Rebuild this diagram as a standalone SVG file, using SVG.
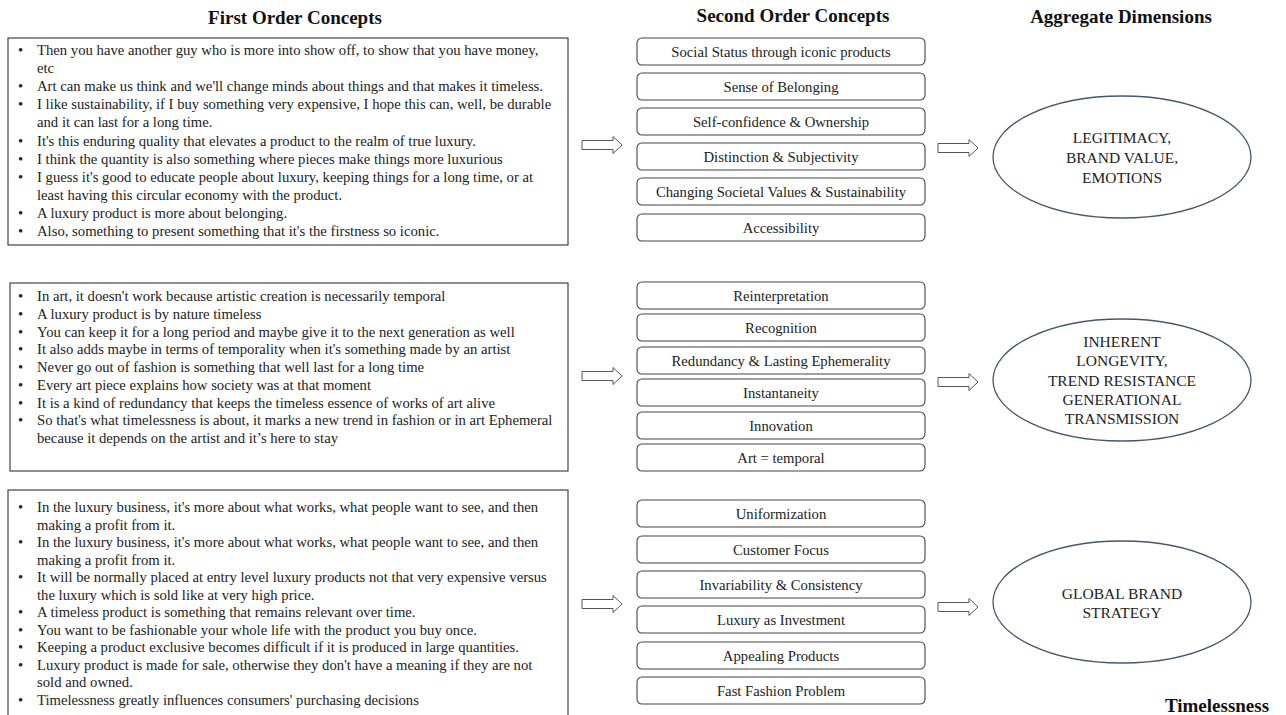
<svg xmlns="http://www.w3.org/2000/svg" xmlns:xlink="http://www.w3.org/1999/xlink" width="1286" height="715" viewBox="0 0 1286 715">
<style>
.h{font-family:"Liberation Serif","Times New Roman",serif;font-weight:bold;font-size:19px;fill:#111;text-anchor:middle}
.t{font-family:"Liberation Serif","Times New Roman",serif;font-size:14.7px;fill:#222}
.c{font-family:"Liberation Serif","Times New Roman",serif;font-size:14.7px;fill:#222;text-anchor:middle}
.e{font-family:"Liberation Serif","Times New Roman",serif;font-size:15.5px;fill:#222;text-anchor:middle}
.box{fill:#fff;stroke:#444;stroke-width:1.2}
.sb{fill:#fff;stroke:#444;stroke-width:1.1}
.el{fill:#fff;stroke:#44586c;stroke-width:1.3}
.ar{fill:#fff;stroke:#555;stroke-width:1}
</style>
<defs>
<path id="arr" d="M-40,-4.5 L-9,-4.5 L-9,-8.5 L0,0 L-9,8.5 L-9,4.5 L-40,4.5 Z"/>
</defs>
<rect width="1286" height="715" fill="#fff"/>
<text class="h" x="295" y="24">First Order Concepts</text>
<text class="h" x="793" y="22">Second Order Concepts</text>
<text class="h" x="1121" y="23">Aggregate Dimensions</text>

<g id="first1">
<rect class="box" x="8" y="38" width="560" height="207"/>
<text class="t"><tspan x="18" y="55">•</tspan><tspan x="37" y="55">Then you have another guy who is more into show off, to show that you have money,</tspan>
<tspan x="37" y="73.1">etc</tspan>
<tspan x="18" y="91.2">•</tspan><tspan x="37" y="91.2">Art can make us think and we'll change minds about things and that makes it timeless.</tspan>
<tspan x="18" y="109.3">•</tspan><tspan x="37" y="109.3">I like sustainability, if I buy something very expensive, I hope this can, well, be durable</tspan>
<tspan x="37" y="127.4">and it can last for a long time.</tspan>
<tspan x="18" y="145.5">•</tspan><tspan x="37" y="145.5">It's this enduring quality that elevates a product to the realm of true luxury.</tspan>
<tspan x="18" y="163.6">•</tspan><tspan x="37" y="163.6">I think the quantity is also something where pieces make things more luxurious</tspan>
<tspan x="18" y="181.7">•</tspan><tspan x="37" y="181.7">I guess it's good to educate people about luxury, keeping things for a long time, or at</tspan>
<tspan x="37" y="199.8">least having this circular economy with the product.</tspan>
<tspan x="18" y="217.9">•</tspan><tspan x="37" y="217.9">A luxury product is more about belonging.</tspan>
<tspan x="18" y="236">•</tspan><tspan x="37" y="236">Also, something to present something that it's the firstness so iconic.</tspan></text>
</g>

<g id="first2">
<rect class="box" x="10" y="283" width="558" height="188"/>
<text class="t"><tspan x="18" y="301">•</tspan><tspan x="37" y="301">In art, it doesn't work because artistic creation is necessarily temporal</tspan>
<tspan x="18" y="318.75">•</tspan><tspan x="37" y="318.75">A luxury product is by nature timeless</tspan>
<tspan x="18" y="336.5">•</tspan><tspan x="37" y="336.5">You can keep it for a long period and maybe give it to the next generation as well</tspan>
<tspan x="18" y="354.25">•</tspan><tspan x="37" y="354.25">It also adds maybe in terms of temporality when it's something made by an artist</tspan>
<tspan x="18" y="372">•</tspan><tspan x="37" y="372">Never go out of fashion is something that well last for a long time</tspan>
<tspan x="18" y="389.75">•</tspan><tspan x="37" y="389.75">Every art piece explains how society was at that moment</tspan>
<tspan x="18" y="407.5">•</tspan><tspan x="37" y="407.5">It is a kind of redundancy that keeps the timeless essence of works of art alive</tspan>
<tspan x="18" y="425.25">•</tspan><tspan x="37" y="425.25">So that's what timelessness is about, it marks a new trend in fashion or in art Ephemeral</tspan>
<tspan x="37" y="443">because it depends on the artist and it’s here to stay</tspan></text>
</g>

<g id="first3">
<rect class="box" x="8" y="490" width="560" height="230"/>
<text class="t"><tspan x="18" y="512">•</tspan><tspan x="37" y="512">In the luxury business, it's more about what works, what people want to see, and then</tspan>
<tspan x="37" y="529.5">making a profit from it.</tspan>
<tspan x="18" y="547">•</tspan><tspan x="37" y="547">In the luxury business, it's more about what works, what people want to see, and then</tspan>
<tspan x="37" y="564.5">making a profit from it.</tspan>
<tspan x="18" y="582">•</tspan><tspan x="37" y="582">It will be normally placed at entry level luxury products not that very expensive versus</tspan>
<tspan x="37" y="599.5">the luxury which is sold like at very high price.</tspan>
<tspan x="18" y="617">•</tspan><tspan x="37" y="617">A timeless product is something that remains relevant over time.</tspan>
<tspan x="18" y="634.5">•</tspan><tspan x="37" y="634.5">You want to be fashionable your whole life with the product you buy once.</tspan>
<tspan x="18" y="652">•</tspan><tspan x="37" y="652">Keeping a product exclusive becomes difficult if it is produced in large quantities.</tspan>
<tspan x="18" y="669.5">•</tspan><tspan x="37" y="669.5">Luxury product is made for sale, otherwise they don't have a meaning if they are not</tspan>
<tspan x="37" y="687">sold and owned.</tspan>
<tspan x="18" y="704.5">•</tspan><tspan x="37" y="704.5">Timelessness greatly influences consumers' purchasing decisions</tspan></text>
</g>

<g id="second1">
<rect class="sb" x="637" y="38" width="288" height="27" rx="5"/><text class="c" x="781" y="56.5">Social Status through iconic products</text>
<rect class="sb" x="637" y="73" width="288" height="27" rx="5"/><text class="c" x="781" y="91.5">Sense of Belonging</text>
<rect class="sb" x="637" y="108" width="288" height="27" rx="5"/><text class="c" x="781" y="126.5">Self-confidence &amp; Ownership</text>
<rect class="sb" x="637" y="143" width="288" height="27" rx="5"/><text class="c" x="781" y="161.5">Distinction &amp; Subjectivity</text>
<rect class="sb" x="637" y="178" width="288" height="27" rx="5"/><text class="c" x="781" y="196.5">Changing Societal Values &amp; Sustainability</text>
<rect class="sb" x="637" y="214" width="288" height="27" rx="5"/><text class="c" x="781" y="232.5">Accessibility</text>
</g>

<g id="second2">
<rect class="sb" x="637" y="282" width="288" height="27" rx="5"/><text class="c" x="781" y="300.5">Reinterpretation</text>
<rect class="sb" x="637" y="314" width="288" height="27" rx="5"/><text class="c" x="781" y="332.5">Recognition</text>
<rect class="sb" x="637" y="347" width="288" height="27" rx="5"/><text class="c" x="781" y="365.5">Redundancy &amp; Lasting Ephemerality</text>
<rect class="sb" x="637" y="379" width="288" height="27" rx="5"/><text class="c" x="781" y="397.5">Instantaneity</text>
<rect class="sb" x="637" y="412" width="288" height="27" rx="5"/><text class="c" x="781" y="430.5">Innovation</text>
<rect class="sb" x="637" y="444" width="288" height="27" rx="5"/><text class="c" x="781" y="462.5">Art = temporal</text>
</g>

<g id="second3">
<rect class="sb" x="637" y="500" width="288" height="27" rx="5"/><text class="c" x="781" y="518.5">Uniformization</text>
<rect class="sb" x="637" y="536" width="288" height="27" rx="5"/><text class="c" x="781" y="554.5">Customer Focus</text>
<rect class="sb" x="637" y="571" width="288" height="27" rx="5"/><text class="c" x="781" y="589.5">Invariability  &amp; Consistency</text>
<rect class="sb" x="637" y="606" width="288" height="27" rx="5"/><text class="c" x="781" y="624.5">Luxury as Investment</text>
<rect class="sb" x="637" y="642" width="288" height="27" rx="5"/><text class="c" x="781" y="660.5">Appealing Products</text>
<rect class="sb" x="637" y="677" width="288" height="27" rx="5"/><text class="c" x="781" y="695.5">Fast Fashion Problem</text>
</g>

<g id="agg1">
<ellipse class="el" cx="1122" cy="157" rx="129" ry="61"/>
<text class="e"><tspan x="1122" y="143">LEGITIMACY,</tspan><tspan x="1122" y="163">BRAND VALUE,</tspan><tspan x="1122" y="183">EMOTIONS</tspan></text>
</g>
<g id="agg2">
<ellipse class="el" cx="1122" cy="380" rx="129" ry="61"/>
<text class="e"><tspan x="1122" y="347">INHERENT</tspan><tspan x="1122" y="366">LONGEVITY,</tspan><tspan x="1122" y="386">TREND RESISTANCE</tspan><tspan x="1122" y="405">GENERATIONAL</tspan><tspan x="1122" y="424">TRANSMISSION</tspan></text>
</g>
<g id="agg3">
<ellipse class="el" cx="1122" cy="602" rx="129" ry="61"/>
<text class="e"><tspan x="1122" y="599">GLOBAL BRAND</tspan><tspan x="1122" y="618">STRATEGY</tspan></text>
</g>

<g id="connectors">
<use xlink:href="#arr" class="ar" x="622" y="145"/>
<use xlink:href="#arr" class="ar" x="622" y="376"/>
<use xlink:href="#arr" class="ar" x="622" y="604"/>
<use xlink:href="#arr" class="ar" x="978" y="148"/>
<use xlink:href="#arr" class="ar" x="978" y="382"/>
<use xlink:href="#arr" class="ar" x="978" y="607"/>
</g>

<text class="h" x="1217" y="712">Timelessness</text>
</svg>
